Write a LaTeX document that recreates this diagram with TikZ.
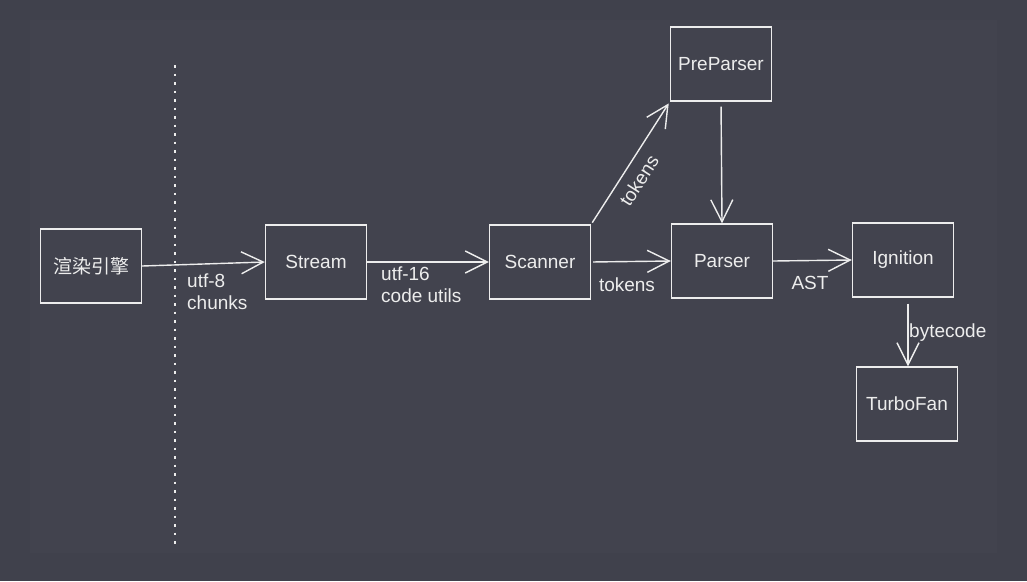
\documentclass[tikz,border=0pt]{standalone}
\usepackage{fontspec}
\setmainfont{Liberation Sans}
\newfontfamily\cjk{Noto Sans CJK SC}
\usetikzlibrary{arrows.meta}
\definecolor{bgouter}{HTML}{40414C}
\definecolor{bginner}{HTML}{42434E}
\definecolor{ink}{HTML}{EDEDED}
\tikzset{
  box/.style={draw=ink, line width=1.4pt, minimum width=101pt, minimum height=74pt, inner sep=0pt, text=ink, font=\fontsize{19}{22}\selectfont},
  conn/.style={draw=ink, line width=1.4pt, -{Straight Barb[length=22pt,width=22pt,line width=1.4pt]}},
  lbl/.style={text=ink, font=\fontsize{19}{22}\selectfont, inner sep=0pt, align=left},
  divider/.style={draw=ink, line width=1.8pt, dash pattern=on 2.5pt off 6pt}
}
\begin{document}
\begin{tikzpicture}[x=1pt,y=-1pt]
\fill[bgouter] (0,0) rectangle (1027,581);
\fill[bginner] (30,20) rectangle (997,553);
\useasboundingbox (0,0) rectangle (1027,581);
% divider
\coordinate (dtop) at (175,65);
\coordinate (dbot) at (175,546);
\draw[divider] (dtop) -- (dbot);
% nodes
\node[box] (render) at (91,266) {\cjk 渲染引擎};
\node[box] (stream) at (316,262) {Stream};
\node[box] (scanner) at (540,262) {Scanner};
\node[box] (pre) at (721,64) {PreParser};
\node[box] (parser) at (722,261) {Parser};
\node[box] (ign) at (903,260) {Ignition};
\node[box] (turbo) at (907,404) {TurboFan};
% connectors
\draw[conn] (render.east) -- (stream.west);
\draw[conn] (stream.east) -- (scanner.west);
\draw[conn, shorten <=2pt] (scanner.east) -- (parser.west);
\draw[conn, shorten <=2pt, shorten >=2pt] (scanner.north east) -- node[lbl, sloped, below=9pt, pos=0.43] {tokens} (pre.south west);
\draw[conn, shorten <=5pt] (pre.south) -- (parser.north);
\draw[conn] (parser.east) -- (ign.west);
\draw[conn, shorten <=6pt] ([xshift=5pt]ign.south) -- ([xshift=1pt]turbo.north);
% labels
\node[lbl, anchor=north west] (l1) at (187,274) {utf-8\\chunks};
\node[lbl, anchor=north west] (l2) at (381,267) {utf-16\\code utils};
\node[lbl] (l3) at (627,285) {tokens};
\node[lbl] (l4) at (810,283) {AST};
\node[lbl, anchor=west] (l5) at (909,333) {bytecode};
\end{tikzpicture}
\end{document}
